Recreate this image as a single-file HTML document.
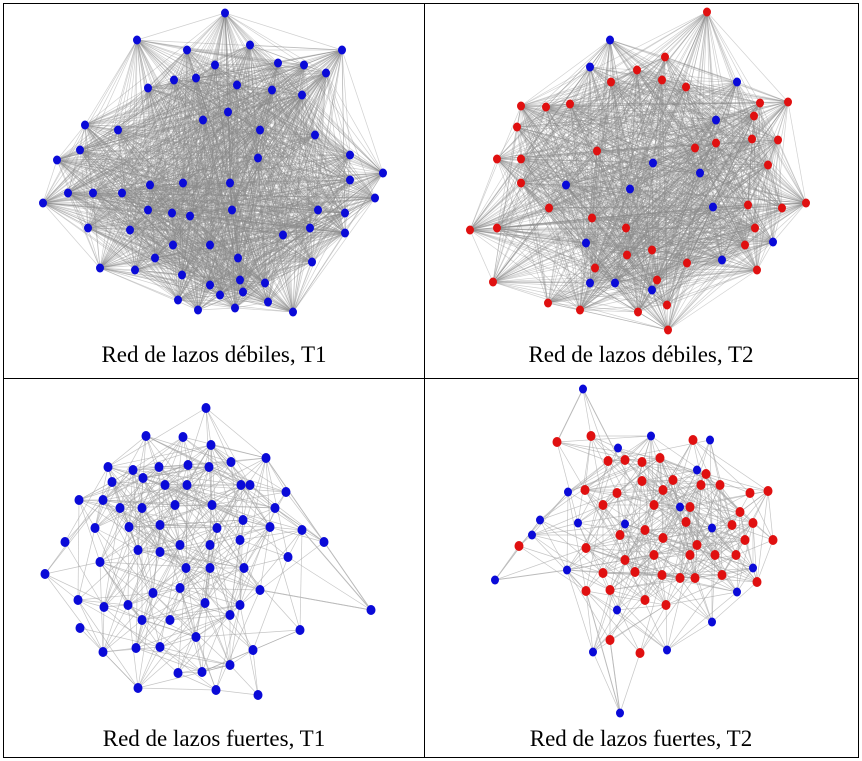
<!DOCTYPE html>
<html><head><meta charset="utf-8"><style>
html,body{margin:0;padding:0;background:#fff;width:862px;height:761px;overflow:hidden}
svg{display:block}
text{font-family:"Liberation Serif",serif;font-size:23px;fill:#000}
</style></head><body>
<svg id="s" width="862" height="761" xmlns="http://www.w3.org/2000/svg">
<g id="edges"></g><g id="nodes"></g>
<rect x="3.5" y="3.5" width="855" height="754" fill="none" stroke="#000" stroke-width="1"/>
<line x1="424.5" y1="3" x2="424.5" y2="758" stroke="#000"/>
<line x1="3" y1="378.5" x2="859" y2="378.5" stroke="#000"/>
<text x="214" y="362" text-anchor="middle">Red de lazos débiles, T1</text>
<text x="641" y="362" text-anchor="middle">Red de lazos débiles, T2</text>
<text x="214" y="746" text-anchor="middle">Red de lazos fuertes, T1</text>
<text x="641" y="746" text-anchor="middle">Red de lazos fuertes, T2</text>
</svg>
<script>
var B='#0a0ad8',R='#e01010';
var p1=[[225,13],[137,40],[187,50],[250,45],[342,50],[215,65],[278,63],[304,65],[326,73],[148,88],[174,80],[196,78],[237,85],[272,90],[302,95],[228,112],[203,120],[85,125],[118,130],[260,130],[315,135],[80,150],[57,160],[258,158],[350,155],[150,185],[183,183],[230,183],[383,173],[68,193],[93,193],[122,193],[43,203],[350,180],[375,198],[148,210],[172,213],[190,216],[232,210],[318,210],[345,213],[88,228],[130,230],[345,233],[173,245],[210,245],[283,235],[310,228],[100,268],[155,258],[238,258],[312,262],[135,270],[182,275],[210,285],[240,280],[243,292],[265,283],[220,295],[178,300],[235,308],[268,302],[293,312],[198,310]];
var p2r=[[707,12],[665,57],[637,70],[611,82],[662,80],[686,87],[760,103],[788,102],[521,106],[546,107],[570,104],[754,116],[517,127],[497,159],[521,159],[597,151],[695,148],[716,143],[752,139],[778,140],[768,165],[521,183],[549,208],[592,218],[626,228],[652,250],[470,230],[497,228],[782,208],[806,203],[755,228],[627,255],[595,268],[657,280],[745,245],[757,270],[493,282],[548,303],[580,310],[638,312],[668,330],[667,305],[687,263],[748,205]];
var p2b=[[610,40],[590,67],[737,82],[716,120],[653,163],[700,173],[566,185],[630,189],[713,207],[586,243],[773,242],[722,260],[615,283],[590,283],[652,290]];
var p3=[[206,408],[146,436],[183,437],[266,458],[231,462],[211,445],[108,467],[133,470],[159,467],[188,465],[209,467],[79,500],[103,500],[143,478],[112,482],[165,485],[187,485],[241,485],[250,485],[286,492],[120,508],[142,508],[175,505],[212,505],[275,508],[95,528],[129,527],[160,525],[217,528],[243,520],[65,542],[270,527],[302,530],[324,542],[138,550],[160,552],[180,545],[210,545],[240,540],[100,562],[288,557],[45,574],[186,568],[210,568],[244,568],[78,600],[104,607],[128,605],[153,593],[180,588],[205,603],[240,605],[260,590],[371,610],[300,630],[80,628],[142,620],[170,620],[196,637],[230,615],[103,652],[136,648],[160,647],[253,650],[178,673],[202,672],[138,688],[216,690],[258,695],[230,665]];
var p4b=[[583,389],[620,713],[495,580],[593,652],[667,650],[712,622],[737,592],[753,568],[617,610],[540,520],[567,570],[532,535],[712,528],[625,524],[680,507],[651,436],[618,448],[697,470],[578,523],[568,492],[710,440]];
var p4r=[[557,442],[591,436],[608,461],[625,460],[642,462],[693,440],[660,458],[673,480],[706,474],[642,481],[617,493],[663,490],[701,485],[720,485],[750,493],[768,491],[585,490],[603,505],[654,505],[690,507],[740,512],[732,525],[753,523],[686,522],[645,530],[586,548],[620,535],[663,538],[697,545],[745,540],[773,540],[519,546],[625,560],[654,555],[690,555],[715,555],[736,555],[603,573],[635,572],[662,575],[680,578],[695,578],[722,575],[757,582],[586,591],[610,590],[645,600],[666,605],[640,653],[610,640]];
var seed=7;function rnd(){seed=(seed*16807)%2147483647;return seed/2147483647;}
var E=document.getElementById('edges'),N=document.getElementById('nodes'),h='';
function edges(pts,prob,maxd,op,col){for(var i=0;i<pts.length;i++)for(var j=i+1;j<pts.length;j++){var dx=pts[i][0]-pts[j][0],dy=pts[i][1]-pts[j][1];if(Math.sqrt(dx*dx+dy*dy)>maxd)continue;if(rnd()<prob)h+='<line x1="'+pts[i][0]+'" y1="'+pts[i][1]+'" x2="'+pts[j][0]+'" y2="'+pts[j][1]+'" stroke="'+col+'" stroke-opacity="'+op+'" stroke-width="0.7"/>';}}
edges(p1,0.8,999,0.4,'#8a8a8a');
edges(p2r.concat(p2b),0.75,999,0.4,'#8a8a8a');
edges(p3,0.45,115,0.6,'#a0a0a0');
edges(p4r.concat(p4b),0.4,105,0.6,'#a0a0a0');
h+='<line x1="583" y1="389" x2="557" y2="442" stroke="#bbb"/><line x1="583" y1="389" x2="640" y2="500" stroke="#bbb"/><line x1="620" y1="713" x2="610" y2="640" stroke="#bbb"/><line x1="620" y1="713" x2="586" y2="591" stroke="#bbb"/><line x1="495" y1="580" x2="567" y2="570" stroke="#bbb"/><line x1="495" y1="580" x2="540" y2="520" stroke="#bbb"/><line x1="371" y1="610" x2="302" y2="530" stroke="#bbb"/><line x1="371" y1="610" x2="324" y2="542" stroke="#bbb"/><line x1="371" y1="610" x2="260" y2="590" stroke="#bbb"/><line x1="324" y1="542" x2="266" y2="458" stroke="#bbb"/>';
E.innerHTML=h;h='';
function nodes(pts,c,r){pts.forEach(function(p){h+='<ellipse cx="'+p[0]+'" cy="'+p[1]+'" rx="'+r+'" ry="'+(r+0.5)+'" fill="'+c+'"/>';});}
nodes(p1,B,4);nodes(p2r,R,4);nodes(p2b,B,4);nodes(p3,B,4.5);nodes(p4r,R,4.5);nodes(p4b,B,4);
N.innerHTML=h;
</script>
</body></html>
